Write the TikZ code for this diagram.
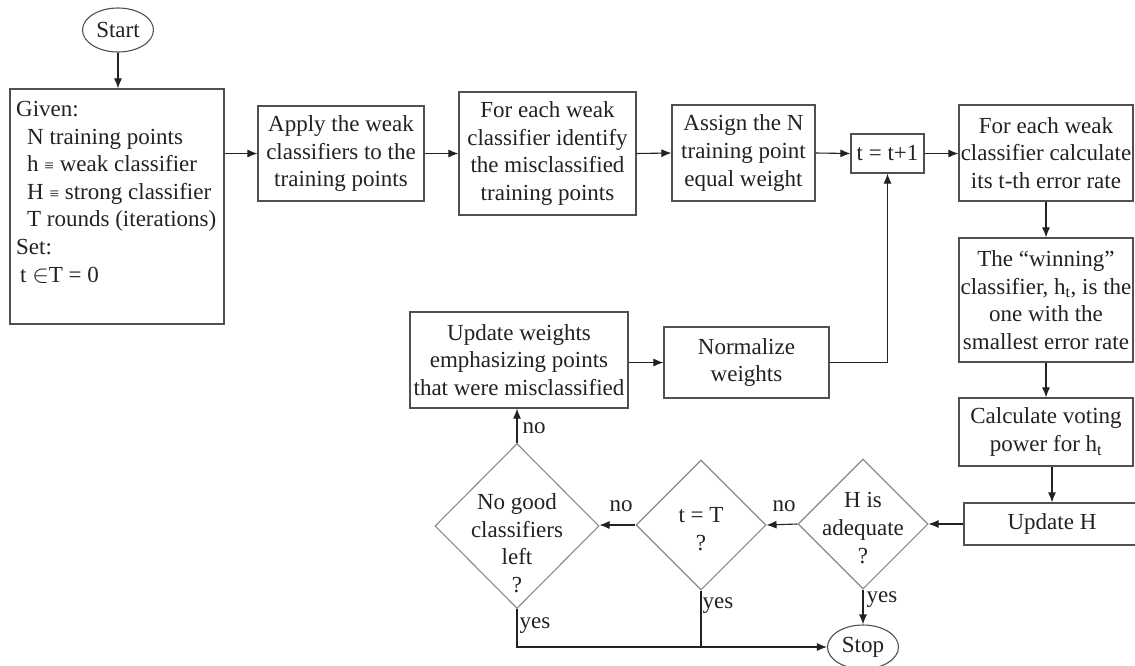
\documentclass[tikz,border=0pt]{standalone}
\usepackage{fontspec}
\setmainfont{Liberation Serif}
\usetikzlibrary{shapes.geometric,arrows.meta}
\definecolor{boxline}{HTML}{505050}
\definecolor{dialine}{HTML}{8A8A8A}
\definecolor{ink}{HTML}{222222}
\newcommand{\smallequiv}{{\fontsize{17}{17}\selectfont≡}}
\begin{document}
\begin{tikzpicture}[x=1pt,y=-1pt,
  font=\fontsize{23}{27.6}\selectfont,
  every node/.style={text=ink},
  box/.style={draw=boxline,line width=1.2pt,rectangle,inner sep=0pt,align=center},
  oval/.style={draw=boxline,line width=1.1pt,ellipse,inner sep=0pt},
  decision/.style={draw=dialine,line width=1.1pt,diamond,aspect=1,inner sep=0pt},
  flow/.style={draw=ink,line width=1.1pt,-{Latex[length=10pt,width=8pt]}},
  plain/.style={draw=ink,line width=1.1pt},
  lbl/.style={inner sep=0pt}]
\useasboundingbox (0,0) rectangle (1135,665);
\fill[white] (0,0) rectangle (1135,665);

% start / stop
\node[oval,minimum width=71pt,minimum height=44pt] (start) at (118,30) {Start};
\node[oval,minimum width=71pt,minimum height=44pt] (stop) at (863,647) {Stop};

% initial settings
\node[box,minimum width=214pt,minimum height=235pt] (given) at (117,206.5) {};
\node[anchor=north west,align=left,inner sep=0pt] (giventxt) at (16,101)
  {Given:\\
   \hspace*{11pt}N training points\\
   \hspace*{11pt}h \smallequiv{} weak classifier\\
   \hspace*{11pt}H \smallequiv{} strong classifier\\
   \hspace*{11pt}T rounds (iterations)\\
   Set:\\
   \hspace*{4pt}t $\in$T = 0};

% top row
\node[box,minimum width=166pt,minimum height=95pt] (apply) at (341,153.5)
  {Apply the weak\\classifiers to the\\training points};
\node[box,minimum width=177pt,minimum height=123pt] (ident) at (547.5,153.5)
  {For each weak\\classifier identify\\the misclassified\\training points};
\node[box,minimum width=143pt,minimum height=96pt] (assign) at (743.5,153)
  {Assign the N\\training point\\equal weight};
\node[box,minimum width=73pt,minimum height=39pt] (tinc) at (887.5,153.5) {t = t+1};

% right column
\node[box,minimum width=174pt,minimum height=96pt] (err) at (1046,153)
  {For each weak\\classifier calculate\\its t-th error rate};
\node[box,minimum width=174pt,minimum height=124pt] (win) at (1046,300)
  {The “winning”\\classifier, h\textsubscript{t}, is the\\one with the\\smallest error rate};
\node[box,minimum width=174pt,minimum height=68pt] (vote) at (1046,432)
  {Calculate voting\\power for h\textsubscript{t}};
\node[box,minimum width=176pt,minimum height=42pt] (updH) at (1052,524) {Update H};

% weight update row
\node[box,minimum width=218pt,minimum height=96pt] (upw) at (519,360)
  {Update weights\\emphasizing points\\that were misclassified};
\node[box,minimum width=165pt,minimum height=71pt] (norm) at (746.5,362.5)
  {Normalize\\weights};

% decisions
\node[decision,minimum size=130pt] (adeq) at (863,524) {};
\node[align=center,inner sep=0pt] (adeqtxt) at (863,528) {H is\\adequate\\?};
\node[decision,minimum size=130pt] (tT) at (701,525) {};
\node[align=center,inner sep=0pt] (tTtxt) at (701,529) {t = T\\?};
\node[decision,minimum width=164pt,minimum height=165pt] (nogood) at (517,526) {};
\node[align=center,inner sep=0pt] (nogoodtxt) at (517,543) {No good\\classifiers\\left\\?};

% connectors
\draw[flow] (start.south) -- (start.south |- given.north);
\draw[flow] (apply.west -| given.east) -- (apply.west);
\draw[flow] (apply.east) -- (ident.west);
\draw[flow] (ident.east) -- (assign.west);
\draw[flow] (assign.east) -- (tinc.west);
\draw[flow] (tinc.east) -- (err.west |- tinc.east);
\draw[flow] (err.south) -- (win.north);
\draw[flow] (win.south) -- (vote.north);
\draw[flow] (vote.south -| updH) -- (updH.north);
\draw[flow] (updH.west) -- (adeq.east);
\draw[flow] (adeq.west) -- (tT.east);
\draw[flow] (tT.west) -- (nogood.east |- tT.west);
\draw[flow] (nogood.north) -- (nogood.north |- upw.south);
\draw[flow] (norm.west -| upw.east) -- (norm.west);
\draw[flow] (norm.east) -| (tinc.south);
\draw[flow] (adeq.south) -- (stop.north);
\draw[flow] (nogood.south) |- (stop.west);
\draw[plain] (tT.south) -- (tT.south |- stop.west);

% branch labels
\node[lbl] (l1) at (534,428) {no};
\node[lbl] (l2) at (621,506) {no};
\node[lbl] (l3) at (784,506) {no};
\node[lbl] (l4) at (535,626) {yes};
\node[lbl] (l5) at (718,606) {yes};
\node[lbl] (l6) at (882,600) {yes};
\end{tikzpicture}
\end{document}
